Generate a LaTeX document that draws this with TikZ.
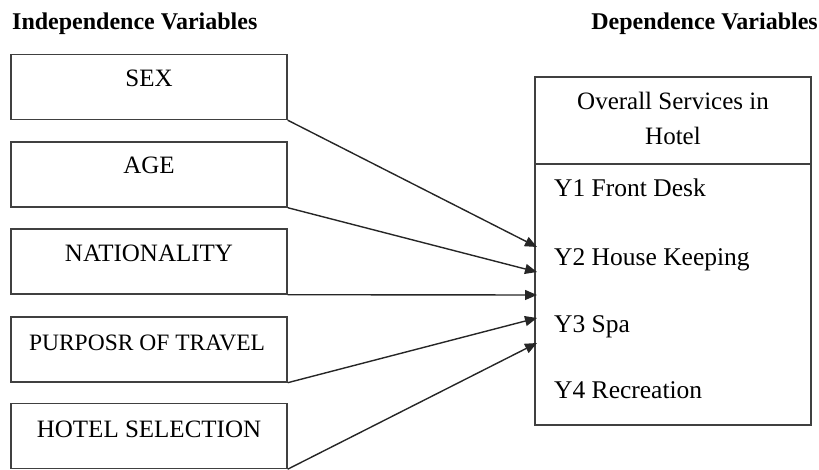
\documentclass[tikz,border=0pt]{standalone}
\usepackage{fontspec}
\setmainfont{Liberation Serif}
\usetikzlibrary{arrows.meta}
\tikzset{
  box/.style={draw=black!75, line width=1.4pt, rectangle, minimum width=276pt, minimum height=65pt, inner sep=0pt},
  boxtext/.style={anchor=base, inner sep=0pt, font=\fontsize{25}{28}\selectfont},
  lefttext/.style={anchor=base west, inner sep=0pt, font=\fontsize{25.5}{28}\selectfont},
  head/.style={inner sep=0pt, font=\fontsize{24}{27}\selectfont\bfseries},
  conn/.style={draw=black!85, line width=1.4pt, -{Triangle[length=12pt,width=10pt]}}
}
\begin{document}
\begin{tikzpicture}[x=1pt,y=-1pt]
\useasboundingbox (0,0) rectangle (819,470);
\node[head, anchor=base west] (h1) at (12,30) {Independence Variables};
\node[head, anchor=base east] (h2) at (818,30) {Dependence Variables};

\node[box] (sex) at (149,87) {};
\node[box] (age) at (149,174.5) {};
\node[box] (nat) at (149,261.5) {};
\node[box] (pur) at (149,349.5) {};
\node[box] (hot) at (149,436) {};
\node[boxtext] (sexT) at (149,87) {SEX};
\node[boxtext] (ageT) at (149,174) {AGE};
\node[boxtext] (natT) at (149,262) {NATIONALITY};
\node[boxtext, font=\fontsize{23.5}{26}\selectfont] (purT) at (147,350) {PURPOSR OF TRAVEL};
\node[boxtext] (hotT) at (149,437) {HOTEL SELECTION};

\node[draw=black!75, line width=1.4pt, rectangle, minimum width=276pt, minimum height=348pt, inner sep=0pt] (dep) at (673,251) {};
\coordinate (dl) at (535,164);
\coordinate (dr) at (811,164);
\draw[draw=black!75, line width=1.4pt] (dl) -- (dr);
\node[boxtext] (o1) at (673,110) {Overall Services in};
\node[boxtext] (o2) at (673,145) {Hotel};
\node[lefttext] (y1) at (554,197) {Y1 Front Desk};
\node[lefttext] (y2) at (554,266) {Y2 House Keeping};
\node[lefttext] (y3) at (554,332) {Y3 Spa};
\node[lefttext] (y4) at (554,398) {Y4 Recreation};

\coordinate (t1) at (537,247);
\coordinate (t2) at (537,272);
\coordinate (t3) at (537,295);
\coordinate (t4) at (537,318);
\coordinate (t5) at (537,343);
\draw[conn] (sex.south east) -- (t1);
\draw[conn] (age.south east) -- (t2);
\draw[conn] (nat.south east) -- (t3);
\draw[conn] (pur.south east) -- (t4);
\draw[conn] (hot.south east) -- (t5);
\end{tikzpicture}
\end{document}
